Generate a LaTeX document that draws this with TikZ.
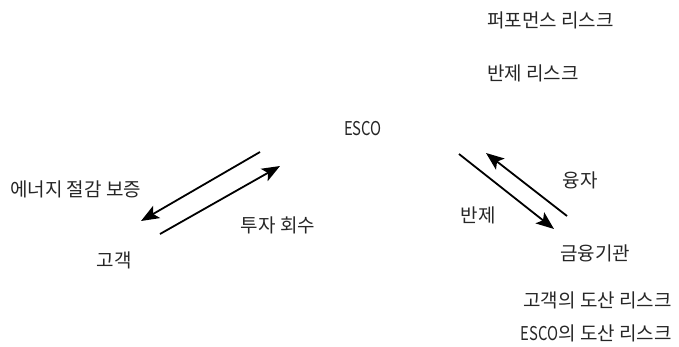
\documentclass[tikz,border=0pt]{standalone}
\usepackage{fontspec}
\usepackage{graphicx}
\setmainfont{Noto Sans CJK KR}
\usetikzlibrary{arrows.meta}
\newcommand{\escoword}{\scalebox{0.78}[1]{ESCO}}
\begin{document}
\begin{tikzpicture}[x=1pt,y=-1pt,
  lbl/.style={inner sep=0pt,font=\fontsize{19}{22}\selectfont,text=black!85},
  flow/.style={line width=1.8pt,-{Stealth[length=18pt,width=14pt,inset=4pt]}}]
\useasboundingbox (0,0) rectangle (679,346);
\node[lbl,anchor=west] (perf) at (487,20) {퍼포먼스 리스크};
\node[lbl,anchor=west] (banr) at (487,73) {반제 리스크};
\node[lbl] (esco) at (363,129) {\escoword};
\node[lbl,anchor=west] (guar) at (10,189) {에너지 절감 보증};
\node[lbl] (cust) at (114,260) {고객};
\node[lbl] (inv) at (278,225) {투자 회수};
\node[lbl] (loan) at (580,180) {융자};
\node[lbl] (repay) at (478,215) {반제};
\node[lbl] (bank) at (595,253) {금융기관};
\node[lbl,anchor=east] (crisk) at (672,300) {고객의 도산 리스크};
\node[lbl,anchor=east] (erisk) at (672,333) {\escoword 의 도산 리스크};
\coordinate (a1s) at (260,152); \coordinate (a1e) at (141,221);
\coordinate (a2s) at (160,234); \coordinate (a2e) at (280,166);
\coordinate (a3s) at (459,154); \coordinate (a3e) at (554,229);
\coordinate (a4s) at (567,216); \coordinate (a4e) at (486,153);
\draw[flow] (a1s) -- (a1e);
\draw[flow] (a2s) -- (a2e);
\draw[flow] (a3s) -- (a3e);
\draw[flow] (a4s) -- (a4e);
\end{tikzpicture}
\end{document}
